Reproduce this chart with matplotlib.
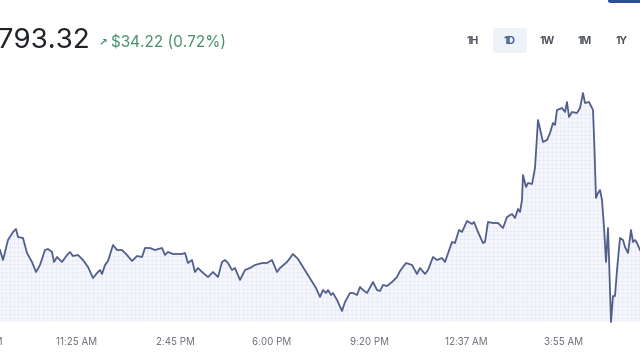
import matplotlib
matplotlib.use("Agg")
import matplotlib.pyplot as plt
from matplotlib.patches import FancyBboxPatch
from matplotlib.transforms import blended_transform_factory

plt.rcParams['font.family'] = ['Inter', 'DejaVu Sans']
plt.rcParams['hatch.linewidth'] = 0.35

# ---- data (position along the time axis, price) ----
pos = [0, 3, 8, 13, 16, 18, 23, 27, 32, 36, 40, 45, 48, 52, 54, 57, 62, 67, 70, 73,
       78, 83, 88, 93, 97, 100, 102, 105, 108, 113, 117, 122, 127, 132, 137, 142, 145,
       150, 155, 162, 165, 168, 173, 182, 185, 188, 192, 195, 198, 202, 208, 213, 218,
       222, 225, 228, 232, 235, 240, 245, 250, 255, 262, 267, 272, 277, 280, 287, 293,
       298, 303, 308, 313, 316, 320, 323, 326, 328, 331, 333, 337, 342, 345, 350, 353,
       357, 360, 363, 367, 373, 377, 380, 383, 387, 392, 397, 400, 406, 412, 417, 420,
       425, 428, 433, 437, 442, 445, 452, 455, 459, 462, 467, 472, 474, 478, 483, 485,
       488, 493, 498, 503, 507, 512, 515, 518, 520, 522, 523, 526, 528, 532, 535, 538,
       541, 543, 547, 550, 553, 555, 557, 562, 565, 567, 569, 572, 577, 580, 583, 585,
       589, 593, 594.5, 596, 598, 600, 602, 604, 606, 608, 609, 611, 613, 615, 617, 620,
       623, 625, 628, 631, 633, 635, 637, 640]
price = [4775, 4770, 4780, 4784, 4785.5, 4781.5, 4781, 4773.5, 4769, 4764, 4767.5, 4775,
         4775.5, 4774, 4769, 4771.5, 4769, 4772.5, 4774, 4772, 4772.5, 4770, 4766.5, 4761,
         4763.5, 4765, 4763, 4767.5, 4769.5, 4777.5, 4775, 4775, 4772.5, 4769.5, 4772,
         4771.5, 4776, 4776, 4775, 4776, 4772.5, 4774, 4773, 4773, 4773.5, 4768.5, 4770,
         4764, 4766, 4764, 4761.5, 4764, 4761.5, 4769, 4770, 4768.5, 4765, 4766, 4760,
         4765, 4766, 4767.5, 4768.5, 4768.5, 4770, 4764, 4766, 4769, 4773, 4770.5, 4766.5,
         4762.5, 4758.5, 4756, 4751.5, 4755, 4753.5, 4755, 4752.5, 4753.5, 4750, 4744.5,
         4749, 4753.5, 4753.5, 4752.5, 4756.5, 4755, 4753.5, 4759, 4755, 4754.5, 4757.5,
         4757, 4759, 4761.5, 4764.5, 4768.5, 4767.5, 4763, 4766, 4763, 4765, 4771.5, 4770,
         4771, 4769, 4779, 4778.5, 4785, 4784, 4789.5, 4788, 4789, 4784, 4778.5, 4779,
         4789, 4788.5, 4788.5, 4786, 4791.5, 4793, 4791, 4795.5, 4794, 4800, 4812.5,
         4806.5, 4808.5, 4808, 4816, 4840, 4833.5, 4829, 4830, 4833.5, 4838.5, 4837.5,
         4845, 4846, 4844, 4849, 4841.5, 4844, 4843.5, 4846, 4853.5, 4848.5, 4849, 4845,
         4825, 4801, 4803.5, 4805, 4800, 4786.5, 4769, 4786, 4771, 4739, 4752, 4752, 4765,
         4781, 4780, 4776.5, 4773.5, 4785, 4779, 4780, 4778.5, 4775]

tick_pos = [77, 175.5, 272, 369, 466.5, 564]
tick_labels = ["11:25 AM", "2:45 PM", "6:00 PM", "9:20 PM", "12:37 AM", "3:55 AM"]
prev_tick_pos = -17
prev_tick_label = "8:05 AM"

price_text = "$4,793.32"
change_text = "$34.22 (0.72%)"
ranges = ["1H", "1D", "1W", "1M", "1Y"]
range_x = [473, 510, 547, 585, 622]
active_range = "1D"

W, H = 640, 360
fig = plt.figure(figsize=(6.4, 3.6), dpi=100)
fig.patch.set_facecolor("white")

ax_bottom_px, ax_top_px = 322, 60
ax = fig.add_axes([0, (H - ax_bottom_px) / H, 1, (ax_bottom_px - ax_top_px) / H])
ymin, ymax = 4739, 4870
ax.set_xlim(0, 640)
ax.set_ylim(ymin, ymax)

ax.fill_between(pos, price, ymin, facecolor="#f6f7fc", edgecolor="#e2e6f2",
                hatch="++++", linewidth=0)
ax.plot(pos, price, color="#525f8d", lw=1.3, solid_joinstyle="round", clip_on=False)

for s in ax.spines.values():
    s.set_visible(False)
ax.set_yticks([])
ax.set_xticks(tick_pos)
ax.set_xticklabels(tick_labels, fontsize=7, color="#6b6f76")
ax.tick_params(axis="x", length=0, pad=11)
trans = blended_transform_factory(ax.transData, ax.transAxes)
ax.annotate(prev_tick_label, xy=(prev_tick_pos, 0), xycoords=trans,
            xytext=(0, -11 * 100 / 72), textcoords="offset pixels",
            ha="center", va="top", fontsize=7, color="#6b6f76", annotation_clip=False)

def fx(px):
    return px / W

def fy(py):
    return (H - py) / H

# header
fig.text(fx(90), fy(48), price_text, ha="right", va="baseline", fontsize=20,
         color="#1f2227")
fig.text(fx(99), fy(45), "\u2197", ha="left", va="baseline", fontsize=7.5,
         color="#3f8f63", family=["DejaVu Sans"], fontweight="bold")
fig.text(fx(111), fy(47), change_text, ha="left", va="baseline", fontsize=11,
         color="#46906a")

# range buttons
bg = FancyBboxPatch((fx(493), fy(53)), fx(34), 25 / H,
                    boxstyle="round,pad=0,rounding_size=0.006",
                    transform=fig.transFigure, facecolor="#eef3fa", edgecolor="none")
fig.patches.append(bg)
for lab, x in zip(ranges, range_x):
    col = "#3c5b8f" if lab == active_range else "#4f5560"
    fig.text(fx(x), fy(41), lab, ha="center", va="center", fontsize=7.5,
             fontweight="bold", color=col)

# top-right button edge
btn = FancyBboxPatch((fx(608), fy(3)), fx(40), 10 / H,
                     boxstyle="round,pad=0,rounding_size=0.005",
                     transform=fig.transFigure, facecolor="#2c4c9c", edgecolor="none")
fig.patches.append(btn)

fig.savefig("out.png", dpi=100)
